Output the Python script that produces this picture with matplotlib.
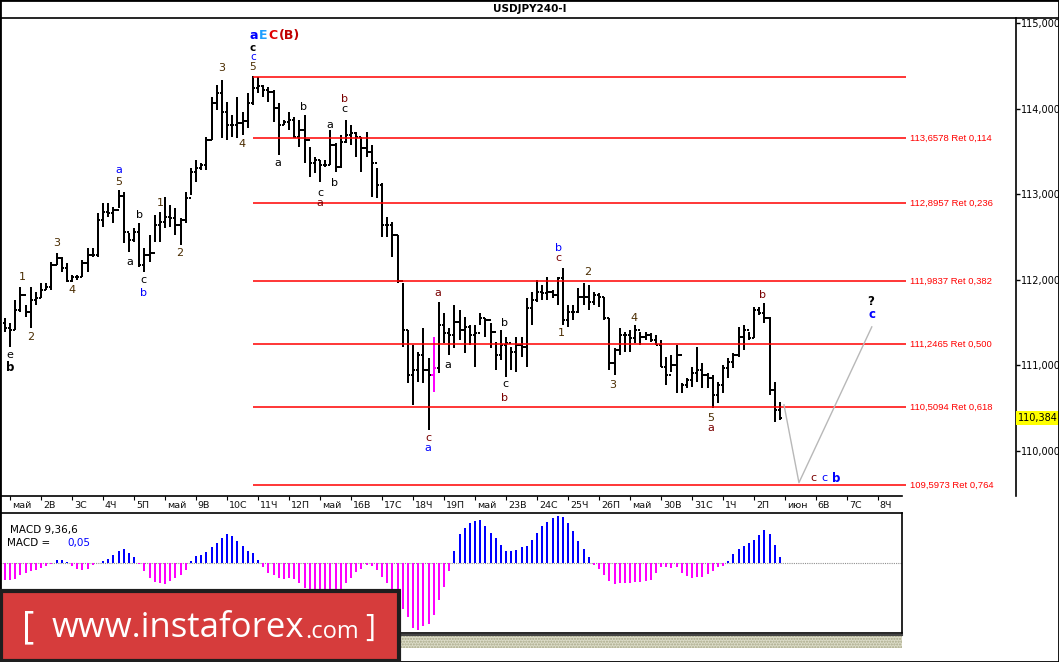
import numpy as np
import matplotlib
matplotlib.use("Agg")
import matplotlib.pyplot as plt
from matplotlib.lines import Line2D
from matplotlib.patches import Rectangle
import matplotlib.transforms as mtransforms

plt.rcParams["font.family"] = ["DejaVu Sans"]

# ---- data: 4H USDJPY bars, index 0 = first bar of 1 May ----
bar_index = np.arange(-1, 150)
highs = [
    111.55, 111.50, 111.76, 111.92, 111.71, 111.92, 111.86, 111.96, 111.96, 112.21,
    112.31, 112.27, 112.20, 112.06, 112.06, 112.23, 112.37, 112.37, 112.78, 112.90,
    112.90, 112.85, 113.05, 113.03, 112.55, 112.61, 112.66, 112.37, 112.52, 112.76,
    112.79, 112.97, 112.87, 112.84, 112.72, 113.02, 113.31, 113.40, 113.37, 113.67,
    114.14, 114.28, 114.33, 114.08, 113.93, 114.14, 113.96, 114.18, 114.38, 114.37,
    114.28, 114.25, 114.22, 114.07, 113.87, 113.96, 113.90, 113.87, 113.93, 113.55,
    113.43, 113.40, 113.40, 113.75, 113.60, 113.69, 113.87, 113.81, 113.73, 113.67,
    113.73, 113.57, 113.31, 113.13, 112.73, 112.68, 112.52, 111.96, 111.41, 111.24,
    111.16, 111.44, 111.09, 111.33, 111.74, 111.61, 111.44, 111.71, 111.65, 111.57,
    111.47, 111.47, 111.61, 111.55, 111.50, 111.27, 111.41, 111.33, 111.21, 111.33,
    111.33, 111.79, 111.86, 112.00, 111.94, 112.03, 111.88, 112.03, 112.14, 111.71,
    111.71, 111.90, 111.96, 111.94, 111.86, 111.85, 111.80, 111.55, 111.20, 111.44,
    111.39, 111.41, 111.47, 111.39, 111.39, 111.38, 111.36, 111.30, 111.10, 111.12,
    111.24, 110.80, 110.85, 110.98, 111.22, 111.03, 110.91, 110.89, 110.81, 111.00,
    111.09, 111.15, 111.45, 111.47, 111.39, 111.68, 111.68, 111.73, 111.57, 110.81,
    110.57,
]
lows = [
    111.39, 111.22, 111.41, 111.62, 111.57, 111.44, 111.71, 111.79, 111.88, 111.88,
    112.17, 112.09, 111.98, 111.98, 112.00, 112.03, 112.09, 112.27, 112.27, 112.62,
    112.73, 112.66, 112.84, 112.43, 112.33, 112.44, 112.15, 112.09, 112.21, 112.44,
    112.44, 112.61, 112.62, 112.52, 112.41, 112.66, 112.99, 113.14, 113.28, 113.28,
    113.63, 113.98, 113.66, 113.63, 113.67, 113.66, 113.69, 113.77, 114.04, 114.18,
    114.14, 114.08, 113.84, 113.46, 113.81, 113.75, 113.66, 113.55, 113.37, 113.20,
    113.25, 113.14, 113.32, 113.34, 113.26, 113.31, 113.60, 113.57, 113.43, 113.26,
    113.43, 112.97, 112.96, 112.50, 112.50, 112.27, 111.96, 111.22, 110.79, 110.54,
    110.81, 110.79, 110.25, 110.69, 110.91, 111.26, 111.12, 111.20, 111.30, 111.15,
    111.24, 110.98, 111.47, 111.33, 111.20, 110.95, 111.06, 110.86, 110.95, 110.92,
    111.10, 110.98, 111.47, 111.74, 111.76, 111.76, 111.79, 111.71, 111.47, 111.45,
    111.53, 111.61, 111.71, 111.65, 111.71, 111.68, 111.53, 110.95, 110.89, 111.12,
    111.16, 111.16, 111.26, 111.24, 111.30, 111.27, 111.24, 110.98, 110.77, 110.92,
    110.68, 110.68, 110.74, 110.75, 110.81, 110.74, 110.74, 110.50, 110.56, 110.68,
    110.85, 110.97, 111.10, 111.18, 111.30, 111.32, 111.59, 111.50, 110.65, 110.34,
    110.36,
]
closes = [
    111.44, 111.41, 111.65, 111.82, 111.62, 111.76, 111.79, 111.88, 111.92, 112.17,
    112.25, 112.14, 111.99, 112.03, 112.03, 112.20, 112.29, 112.29, 112.70, 112.79,
    112.78, 112.82, 112.98, 112.56, 112.47, 112.56, 112.17, 112.29, 112.31, 112.64,
    112.68, 112.73, 112.72, 112.64, 112.70, 112.96, 113.26, 113.31, 113.34, 113.63,
    114.07, 114.18, 113.96, 113.81, 113.81, 113.83, 113.86, 114.07, 114.24, 114.26,
    114.22, 114.19, 114.01, 113.81, 113.84, 113.87, 113.67, 113.75, 113.63, 113.37,
    113.40, 113.34, 113.34, 113.57, 113.32, 113.61, 113.69, 113.72, 113.67, 113.54,
    113.49, 113.37, 113.11, 112.64, 112.64, 112.52, 111.99, 111.41, 110.89, 110.95,
    111.12, 110.95, 110.89, 110.97, 111.47, 111.38, 111.36, 111.51, 111.41, 111.45,
    111.36, 111.38, 111.55, 111.53, 111.39, 111.12, 111.24, 111.26, 111.16, 111.24,
    111.22, 111.67, 111.76, 111.86, 111.85, 111.86, 111.82, 112.02, 111.53, 111.62,
    111.62, 111.80, 111.80, 111.74, 111.82, 111.80, 111.55, 111.03, 111.18, 111.36,
    111.36, 111.32, 111.41, 111.33, 111.36, 111.30, 111.24, 110.98, 110.89, 111.00,
    111.12, 110.77, 110.83, 110.91, 110.95, 110.89, 110.85, 110.65, 110.77, 110.97,
    111.04, 111.12, 111.33, 111.41, 111.32, 111.65, 111.61, 111.55, 110.71, 110.48,
    110.38,
]
first_open = 111.50
opens = [first_open] + closes[:-1]  # 4H forex bars open at the previous close

macd = [
    -0.130, -0.130, -0.120, -0.090, -0.080, -0.065, -0.050, -0.035, -0.020, -0.005,
    0.026, 0.026, 0.005, -0.026, -0.044, -0.057, -0.047, -0.018, -0.003, 0.013,
    0.034, 0.060, 0.096, 0.104, 0.078, 0.044, -0.005, -0.065, -0.117, -0.148,
    -0.156, -0.164, -0.138, -0.112, -0.091, -0.052, 0.018, 0.052, 0.065, 0.083,
    0.122, 0.156, 0.195, 0.226, 0.208, 0.169, 0.130, 0.091, 0.078, 0.020,
    -0.034, -0.078, -0.091, -0.117, -0.122, -0.112, -0.122, -0.156, -0.195, -0.221,
    -0.234, -0.221, -0.216, -0.221, -0.216, -0.203, -0.156, -0.117, -0.070, -0.044,
    -0.013, -0.026, -0.052, -0.104, -0.156, -0.221, -0.273, -0.351, -0.416, -0.502,
    -0.512, -0.481, -0.468, -0.403, -0.286, -0.182, -0.060, 0.091, 0.221, 0.273,
    0.304, 0.325, 0.330, 0.286, 0.234, 0.190, 0.138, 0.096, 0.096, 0.099,
    0.124, 0.130, 0.177, 0.230, 0.283, 0.315, 0.344, 0.362, 0.354, 0.309,
    0.243, 0.172, 0.106, 0.045, -0.013, -0.048, -0.093, -0.135, -0.161, -0.156,
    -0.153, -0.153, -0.145, -0.145, -0.135, -0.127, -0.074, -0.029, -0.029, -0.040,
    -0.034, -0.074, -0.100, -0.119, -0.108, -0.108, -0.087, -0.061, -0.034, -0.021,
    0.018, 0.066, 0.111, 0.130, 0.156, 0.177, 0.217, 0.256, 0.225, 0.137,
    0.050,
]

day_labels = ["май", "2В", "3С", "4Ч", "5П", "май", "9В", "10С", "11Ч", "12П",
              "май", "16В", "17С", "18Ч", "19П", "май", "23В", "24С", "25Ч", "26П",
              "май", "30В", "31С", "1Ч", "2П", "июн", "6В", "7С", "8Ч"]
bars_per_day = 6

fib_top = 114.37
fib_levels = [113.6578, 112.8957, 111.9837, 111.2465, 110.5094, 109.5973]
fib_ratios = ["0,114", "0,236", "0,382", "0,500", "0,618", "0,764"]

forecast_x = [149.8, 152.7, 166.8]
forecast_y = [110.54, 109.63, 111.45]

price_ticks = [115, 114, 113, 112, 111, 110]
last_price = 110.384
highlight_bar = 82  # drawn in magenta on the chart

# wave labels: (bar index, price, text, colour)
BLK, RED, BLU, DIG = "#000000", "#7a0000", "#0000ff", "#4a2c00"
wave_labels = [
    (0.0, 111.12, "e", BLK), (2.3, 112.03, "1", DIG), (4.1, 111.33, "2", DIG),
    (9.1, 112.43, "3", DIG), (12.0, 111.88, "4", DIG),
    (21.1, 113.28, "a", BLU), (21.1, 113.14, "5", DIG),
    (23.2, 112.21, "a", BLK), (25.0, 112.76, "b", BLK),
    (25.9, 112.00, "c", BLK), (25.9, 111.85, "b", BLU),
    (29.0, 112.90, "1", DIG), (32.9, 112.31, "2", DIG),
    (41.0, 114.47, "3", DIG), (44.9, 113.59, "4", DIG),
    (51.9, 113.36, "a", BLK), (56.9, 114.02, "b", BLK),
    (60.0, 113.01, "c", BLK), (60.0, 112.90, "a", RED),
    (61.9, 113.81, "a", BLK), (62.9, 113.13, "b", BLK),
    (64.8, 114.11, "b", RED), (64.8, 113.99, "c", BLK),
    (82.8, 111.85, "a", RED), (80.9, 110.15, "c", RED), (80.9, 110.03, "a", BLU),
    (84.8, 111.00, "a", BLK), (95.8, 111.50, "b", BLK),
    (95.8, 110.78, "c", BLK), (95.8, 110.62, "b", RED),
    (106.1, 112.37, "b", BLU), (106.1, 112.25, "c", RED),
    (106.8, 111.38, "1", DIG), (111.9, 112.09, "2", DIG),
    (116.7, 110.77, "3", DIG), (120.8, 111.55, "4", DIG),
    (135.7, 110.38, "5", DIG), (135.7, 110.27, "a", RED),
    (145.7, 111.82, "b", RED),
    (155.6, 109.68, "c", RED), (157.7, 109.68, "c", BLU),
]
bold_labels = [
    (0.0, 110.97, "b", BLK),
    (166.6, 111.75, "?", BLK), (166.8, 111.60, "c", BLU),
    (159.9, 109.68, "b", BLU),
]
# tightly stacked labels over the top at bar 47
peak_stack = [(114.455, "5", DIG, "normal"), (114.565, "c", BLU, "normal"),
              (114.675, "c", BLK, "bold")]

# ---- layout in pixels of the 1059x662 picture ----
W, H = 1059, 662
PX_PER_BAR = 31 / bars_per_day
X0_PX = 10  # pixel of bar index 0


def fx(px):
    return px / W


def fy(py):
    return 1 - py / H


def idx(px):
    return (px - X0_PX) / PX_PER_BAR


fig = plt.figure(figsize=(W / 100, H / 100), dpi=100, facecolor="white")

ax = fig.add_axes([0, fy(496), fx(1016), (496 - 18) / H])
ax.set_xlim(idx(0), idx(1016))
ax.set_ylim(115 - (496 - 23) / 85.6, 115 + 5 / 85.6)
for side in ["top", "left", "bottom"]:
    ax.spines[side].set_visible(False)
ax.spines["right"].set_linewidth(1.2)

# OHLC bars
colors = ["#ff00ff" if i == highlight_bar else "black" for i in bar_index]
ax.vlines(bar_index, lows, highs, colors=colors, lw=1.1, antialiased=False)
ax.hlines(opens, bar_index - 0.45, bar_index, colors=colors, lw=1.1, antialiased=False)
ax.hlines(closes, bar_index, bar_index + 0.45, colors=colors, lw=1.1, antialiased=False)

# fibonacci levels
fib_start, fib_end = 47, idx(906)
ax.hlines([fib_top] + fib_levels, fib_start, fib_end, colors="#ff0000", lw=1.1)
for lvl, r in zip(fib_levels, fib_ratios):
    ax.text(idx(910), lvl, f"{lvl:.4f}".replace(".", ",") + f" Ret {r}",
            color="#ff0000", fontsize=6.8, family="Liberation Sans",
            va="center", ha="left")

# projected path
ax.plot(forecast_x, forecast_y, color="#b8b8b8", lw=1)

for x, y, t, c in wave_labels:
    ax.text(x, y, t, color=c, fontsize=8, ha="center", va="center")
for x, y, t, c in bold_labels:
    ax.text(x, y, t, color=c, fontsize=8.5, fontweight="bold", ha="center", va="center")
for y, t, c, wt in peak_stack:
    ax.text(47.0, y, t, color=c, fontsize=7.5, fontweight=wt, ha="center", va="baseline")

# degree label at the top
top_y = 114.81
ax.text(47.2, top_y, "a", color="#0000ff", fontsize=9, fontweight="bold", ha="center", va="baseline")
ax.text(idx(263), top_y, "E", color="#1e9fff", fontsize=9, fontweight="bold", ha="center", va="baseline")
ax.text(idx(273), top_y, "C", color="#e00000", fontsize=9, fontweight="bold", ha="center", va="baseline")
ax.text(idx(289), top_y, "(B)", color="#c00000", fontsize=9, fontweight="bold", ha="center", va="baseline")

# right price axis
ax.yaxis.tick_right()
ax.set_yticks(price_ticks, [f"{p},000" for p in price_ticks])
ax.tick_params(axis="y", direction="out", length=3, width=1, pad=0.5, labelsize=7)
ax.annotate(f"{last_price:.3f}".replace(".", ","), xy=(1.0, last_price),
            xycoords=("axes fraction", "data"), xytext=(1.5, 0), textcoords="offset points",
            fontsize=7, va="center", ha="left",
            bbox=dict(boxstyle="square,pad=0.2", facecolor="#ffff00", edgecolor="none"))

# date axis
day_ticks = [k * bars_per_day for k in range(len(day_labels))]
ax.set_xticks(day_ticks)
ax.tick_params(axis="x", direction="out", length=3, labelbottom=False)
trans = mtransforms.blended_transform_factory(ax.transData, ax.transAxes)
for t, lab in zip(day_ticks, day_labels):
    ax.text(t + 0.35, -9 / 478, lab, transform=trans, fontsize=6.8,
            ha="left", va="center", color="#111111")

fig.add_artist(Line2D([0, fx(902)], [fy(496), fy(496)], color="black", lw=1.2))
fig.add_artist(Line2D([0, 1], [fy(18), fy(18)], color="black", lw=1.2))
fig.text(fx(530), fy(9), "USDJPY240-I", fontsize=7.5, fontweight="bold",
         ha="center", va="center")

# MACD panel
mx = fig.add_axes([0, fy(633), fx(902), (633 - 513) / H])
mx.set_xlim(idx(0), idx(902))
mx.set_ylim(-(633 - 563) / 130, (563 - 513) / 130)
mx.set_xticks([])
mx.set_yticks([])
for s in mx.spines.values():
    s.set_linewidth(1.2)
macd_arr = np.array(macd)
mcol = np.where(macd_arr >= 0, "#0000ff", "#ff00ff")
mx.vlines(bar_index, 0, macd_arr, colors=mcol, lw=1.1, antialiased=False)
mx.axhline(0, color="#909090", lw=0.8, ls=(0, (1, 1)), zorder=0)
mx.text(0.011, 0.86, "MACD 9,36,6", transform=mx.transAxes, fontsize=7.5, va="center")
mx.text(0.008, 0.75, "MACD =", transform=mx.transAxes, fontsize=7.5, va="center")
mx.text(0.075, 0.75, "0,05", transform=mx.transAxes, fontsize=7.5, va="center", color="#0000ff")

# hatched strip under MACD
fig.add_artist(Rectangle((0, fy(648)), fx(902), 14 / H, facecolor="#dcdcc8",
                         edgecolor="#a8a888", hatch="......", lw=0))
fig.add_artist(Line2D([0, fx(902)], [fy(634.5), fy(634.5)], color="#444444", lw=1.5))

# logo box
fig.add_artist(Rectangle((fx(1), fy(661)), fx(398), (661 - 591) / H,
                         facecolor="#d63c3c", edgecolor="#1e1e1e", lw=3, zorder=10))
fig.text(fx(28), fy(628), "[", color="white", fontsize=27, family="Open Sans",
         ha="center", va="center", zorder=11)
fig.text(fx(52), fy(628), "www.instaforex", color="white", fontsize=25,
         family="Open Sans", ha="left", va="center", zorder=11)
fig.text(fx(305), fy(632), ".com", color="white", fontsize=17,
         family="Open Sans", ha="left", va="center", zorder=11)
fig.text(fx(370), fy(628), "]", color="white", fontsize=22, family="Open Sans",
         ha="center", va="center", zorder=11)

# picture border
fig.add_artist(Rectangle((0, 0), 1, 1, fill=False, edgecolor="black", lw=2,
                         transform=fig.transFigure))

fig.savefig("out.png", dpi=100)
